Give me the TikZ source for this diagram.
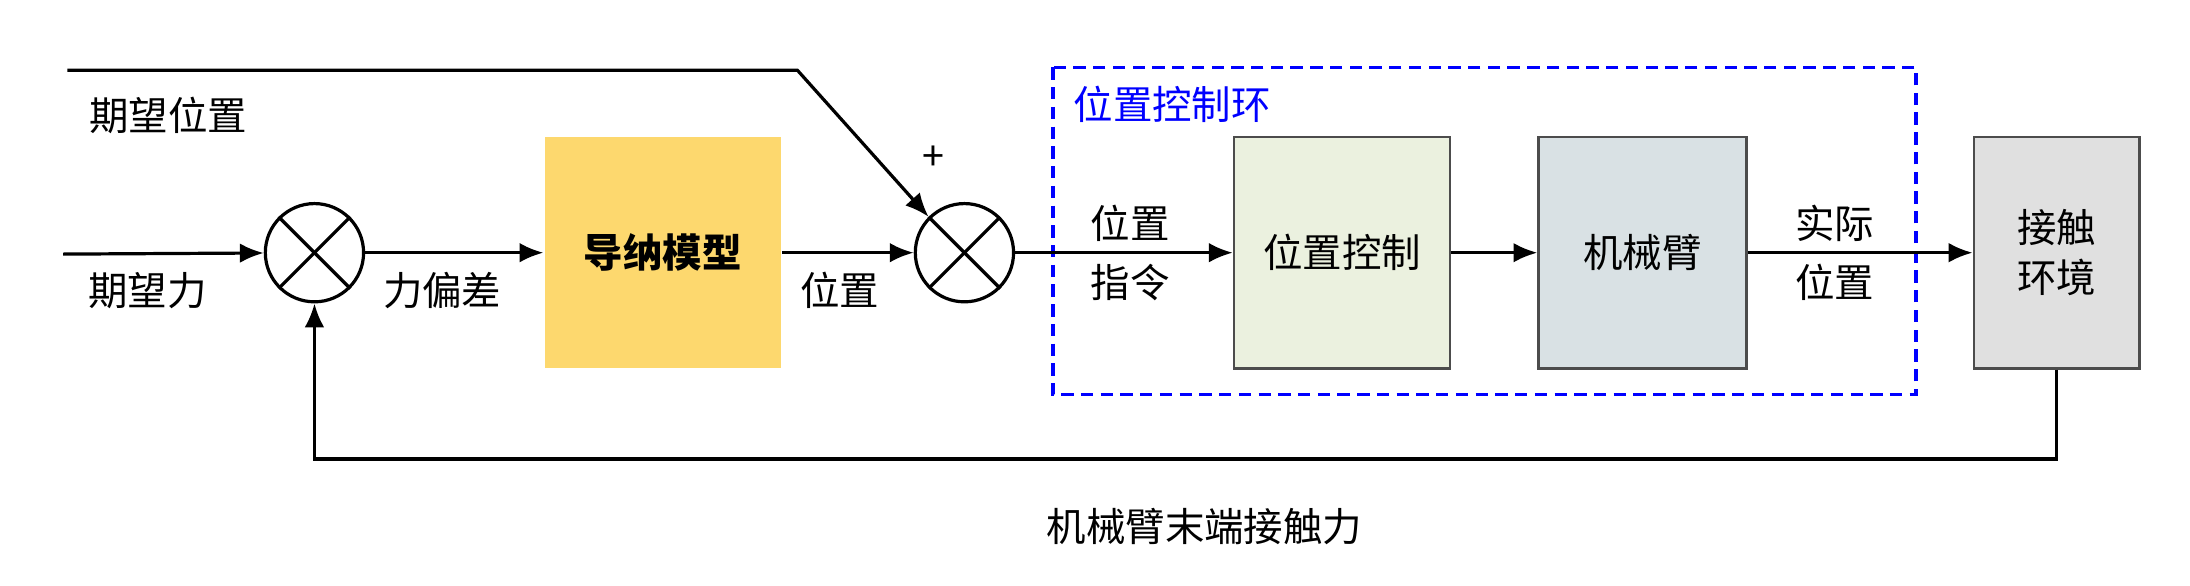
\documentclass[tikz,border=0pt]{standalone}
\usepackage{fontspec}
\setmainfont{Noto Sans CJK SC}
\usetikzlibrary{positioning,arrows.meta}
\definecolor{admit}{HTML}{FDD86E}
\definecolor{posgreen}{HTML}{EBF1DF}
\definecolor{armgrey}{HTML}{D9E1E4}
\definecolor{envgrey}{HTML}{E0E0E0}
\begin{document}
\begin{tikzpicture}
	[x=0.02cm, y=-0.02cm, font=\fontsize{16}{20}\selectfont,
	sumnode/.style={draw, line width=1.3pt, circle, minimum size=1.4cm, inner sep=0pt},
	block/.style={draw=black!70, line width=1pt, minimum height=3.3cm, align=center},
	conn/.style={-{Latex[length=3.4mm,width=2.8mm]}, line width=1.3pt},
	label/.style={align=center, inner sep=1pt}]
	\useasboundingbox (0,0) rectangle (1560,417);

	% loop frame
	\draw[blue, line width=1.5pt, dash pattern=on 5pt off 3pt] (750,48) rectangle (1365,281);
	\node[label, blue] (looptxt) at (835,74) {位置控制环};

	% summing points
	\node[sumnode] (sum1) at (224,180) {};
	\node[sumnode] (sum2) at (687,180) {};
	\foreach \s in {sum1, sum2} {
		\draw[line width=1.3pt] (\s.north west) -- (\s.south east);
		\draw[line width=1.3pt] (\s.north east) -- (\s.south west);
	}

	% blocks
	\node[block, fill=admit, minimum width=3.36cm, draw=none] (admit) at (472,180) {\textbf{导纳模型}};
	\node[block, fill=posgreen, minimum width=3.08cm] (posctl) at (956,180) {位置控制};
	\node[block, fill=armgrey, minimum width=2.96cm] (arm) at (1170,180) {机械臂};
	\node[block, fill=envgrey, minimum width=2.36cm] (env) at (1465,180) {接触\\环境};

	% inputs
	\coordinate (fin) at (45,181);
	\coordinate (xin) at (48,50);
	\coordinate (xbend) at (568,50);
	\node[label] (fdes) at (105,207) {期望力};
	\node[label] (xdes) at (120,82) {期望位置};
	\node[label] (plus) at (665,113) {+};

	% forward path
	\draw[conn] (fin) -- (sum1);
	\draw[conn] (sum1) -- (admit);
	\node[label] (ferr) at (315,207) {力偏差};
	\draw[conn] (admit) -- (sum2);
	\node[label] (xref) at (598,207) {位置};
	\draw[conn] (xin) -- (xbend) -- (sum2.north west);
	\draw[conn] (sum2) -- (posctl);
	\node[label] (xcmd) at (805,180) {位置\\[4pt]指令};
	\draw[conn] (posctl) -- (arm);
	\draw[conn] (arm) -- (env);
	\node[label] (xact) at (1307,180) {实际\\[4pt]位置};

	% feedback
	\coordinate (fb1) at (1465,327);
	\coordinate (fb2) at (224,327);
	\draw[conn] (env.south) -- (fb1) -- (fb2) -- (sum1.south);
	\node[label] (fcon) at (858,375) {机械臂末端接触力};
\end{tikzpicture}
\end{document}
